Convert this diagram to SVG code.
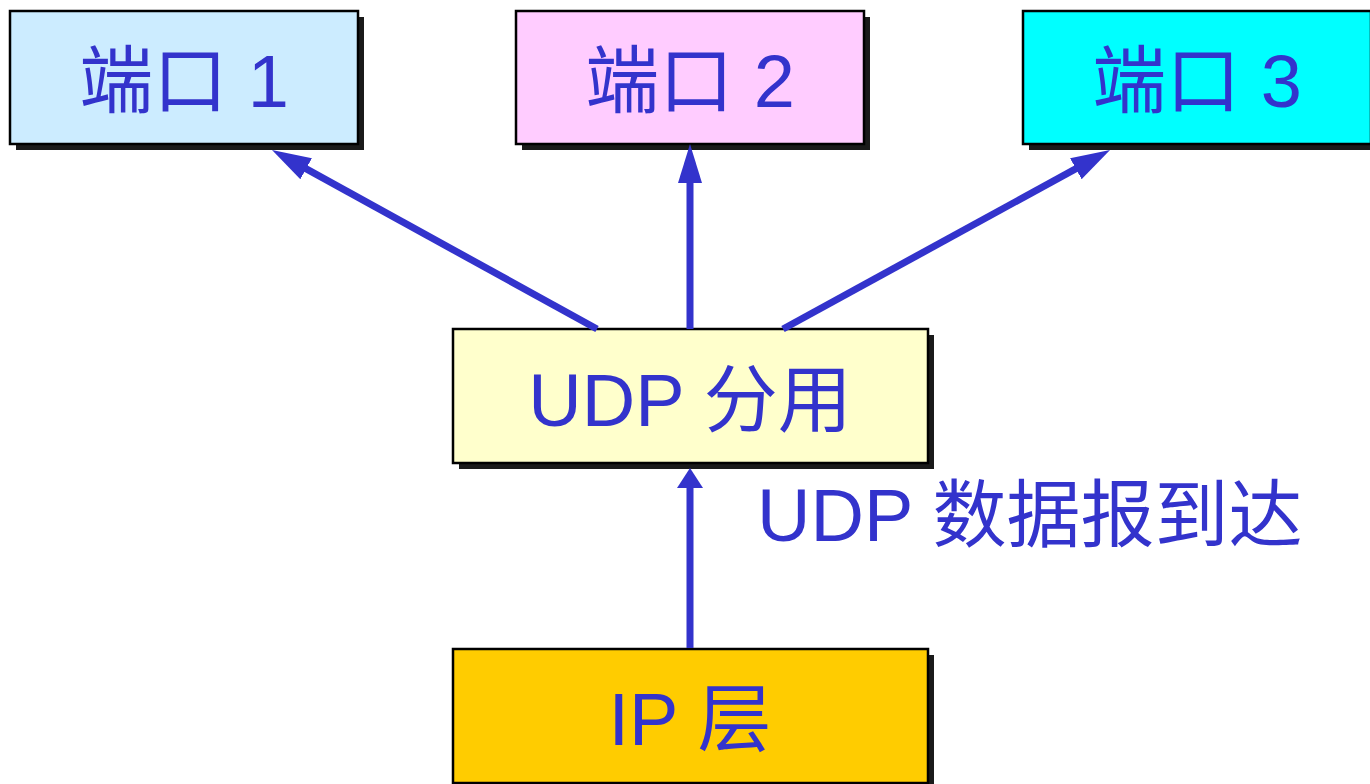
<svg xmlns="http://www.w3.org/2000/svg" width="1370" height="784" viewBox="0 0 1370 784">
<style>
.box{stroke:#000;stroke-width:2.5}
.sh{fill:#1a1a1a}
.t{font-family:"Liberation Sans","Noto Sans CJK SC",sans-serif;font-size:74px;fill:#3333CC}
.c{text-anchor:middle}
.ln{stroke:#3333CC;stroke-width:7;fill:none}
</style>
<defs>
<marker id="ah" viewBox="0 0 39 24" refX="19" refY="12" markerWidth="39" markerHeight="24" markerUnits="userSpaceOnUse" orient="auto">
<path d="M0,0 L39,12 L0,24 z" fill="#3333CC"/>
</marker>
</defs>
<rect width="1370" height="784" fill="#fff"/>
<g id="port1">
<rect class="sh" x="16" y="17" width="348" height="133"/>
<rect class="box" x="10" y="11" width="348" height="133" fill="#CCECFF"/>
<text class="t c" x="184" y="107">端口 1</text>
</g>
<g id="port2">
<rect class="sh" x="522" y="17" width="348" height="133"/>
<rect class="box" x="516" y="11" width="348" height="133" fill="#FFCCFF"/>
<text class="t c" x="690" y="107">端口 2</text>
</g>
<g id="port3">
<rect class="sh" x="1029" y="17" width="348" height="133"/>
<rect class="box" x="1023" y="11" width="348" height="133" fill="#00FFFF"/>
<text class="t c" x="1197" y="107">端口 3</text>
</g>
<g id="udp">
<rect class="sh" x="459" y="335" width="475" height="134"/>
<rect class="box" x="453" y="329" width="475" height="134" fill="#FFFFCC"/>
<text class="t c" x="690" y="426">UDP 分用</text>
</g>
<g id="ip">
<rect class="sh" x="459" y="655" width="475" height="134"/>
<rect class="box" x="453" y="649" width="475" height="134" fill="#FFCC00"/>
<text class="t c" x="690" y="745">IP 层</text>
</g>
<g id="label">
<text class="t" x="757" y="541">UDP 数据报到达</text>
</g>
<g id="connectors">
<line class="ln" x1="597" y1="329" x2="289.5" y2="159.6" marker-end="url(#ah)"/>
<line class="ln" x1="690" y1="329" x2="690" y2="164" marker-end="url(#ah)"/>
<line class="ln" x1="783" y1="329" x2="1092.5" y2="159.6" marker-end="url(#ah)"/>
<line class="ln" x1="690" y1="648" x2="690" y2="487"/>
<path d="M677,488 L690,468 L703,488 z" fill="#3333CC"/>
</g>
</svg>
